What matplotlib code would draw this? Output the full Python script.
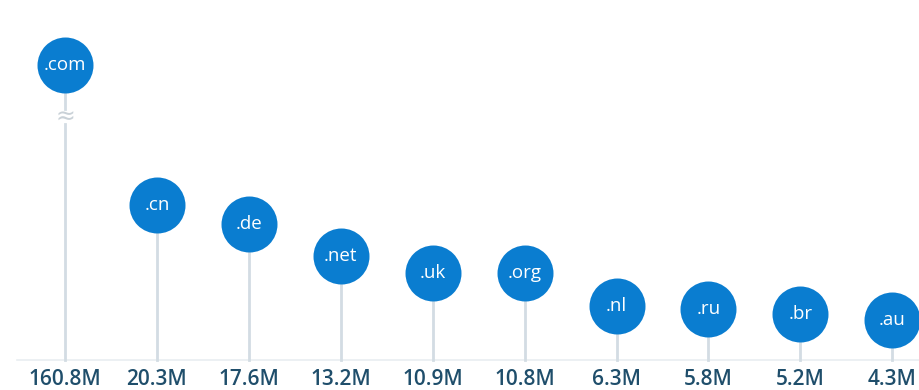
import numpy as np
import matplotlib.pyplot as plt

# Domain registrations by TLD (millions)
tlds = [".com", ".cn", ".de", ".net", ".uk", ".org", ".nl", ".ru", ".br", ".au"]
values = [160.8, 20.3, 17.6, 13.2, 10.9, 10.8, 6.3, 5.8, 5.2, 4.3]
value_labels = ["160.8M", "20.3M", "17.6M", "13.2M", "10.9M",
                "10.8M", "6.3M", "5.8M", "5.2M", "4.3M"]

# .com is far off the scale, so it's drawn at a capped height with a break mark
cap = 39.8
shown = [min(v, cap) for v in values]
gap = (31.6, 33.6)

blue = "#0a7dd0"
stem = "#d3dce3"
text_col = "#1f4e6b"

fig = plt.figure(figsize=(9.19, 3.90), dpi=100)
ax = fig.add_axes([0, 0, 1, 1])
ax.set_xlim(-0.707, 9.29)
ax.set_ylim(-5.42, 48.8)
ax.axis("off")

x = np.arange(len(tlds))
base = -1.25

# faint baseline
ax.plot([-0.52, 9.29], [base, base], color="#e9eef1", lw=1.2, zorder=1)

# stems and dots (broken stem where the value is capped)
for xi, h, v in zip(x, shown, values):
    if v > cap:
        ax.plot([xi, xi], [base, gap[0]], color=stem, lw=2, zorder=2)
        ax.plot([xi, xi], [gap[1], h], color=stem, lw=2, zorder=2)
        ax.text(xi, sum(gap) / 2, "≈", color="#c9d1d7", ha="center",
                va="center", fontsize=17, zorder=3)
    else:
        ax.plot([xi, xi], [base, h], color=stem, lw=2, zorder=2)
ax.scatter(x, shown, s=1625, color=blue, zorder=3, linewidths=0)

for xi, h, name in zip(x, shown, tlds):
    ax.text(xi, h, name, color="white", ha="center", va="center",
            fontsize=13.5, family="Open Sans", zorder=4)

for xi, lab in zip(x, value_labels):
    ax.text(xi, -4.0, lab, color=text_col, ha="center", va="center",
            fontsize=15, family="Open Sans", fontweight="semibold")

fig.savefig("out.png", dpi=100)
